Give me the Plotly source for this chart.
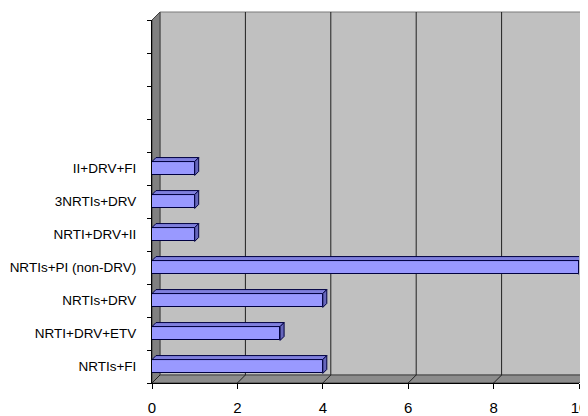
import plotly.graph_objects as go

# ---- data ----
categories = ["NRTIs+FI", "NRTI+DRV+ETV", "NRTIs+DRV", "NRTIs+PI (non-DRV)",
              "NRTI+DRV+II", "3NRTIs+DRV", "II+DRV+FI"]
values = [4, 3, 4, 10, 1, 1, 1]
n_slots = 11          # 7 filled categories + 4 empty slots above
x_ticks = [0, 2, 4, 6, 8, 10]

# ---- layout geometry (pixels); page body has an 8px margin ----
FIG_W, FIG_H = 580, 408
ML, MR, MT, MB = 144, 9, 12, 33
W = FIG_W - ML - MR
H = FIG_H - MT - MB
XMAX = 10
DEPTH = 8                      # wall depth in px
DX, DY = DEPTH / W, DEPTH / H  # wall depth in paper units
px_per_x = W / XMAX
px_per_y = H / n_slots
BAR_W = 0.42
bdx = 4 / px_per_x             # bar depth in data units
bdy = 4 / px_per_y

FONT = "Liberation Sans, Arial, sans-serif"
FS = 13.5

ypos = list(range(len(categories)))

fig = go.Figure()
fig.add_trace(go.Bar(
    x=values, y=ypos, orientation="h", width=BAR_W,
    marker=dict(color="#9999FF", line=dict(color="#000040", width=1)),
    hoverinfo="x+y", showlegend=False,
))

shapes = []
# back wall
shapes.append(dict(type="rect", xref="paper", yref="paper", layer="below",
                   x0=DX, x1=1 + DX, y0=DY, y1=1 + DY,
                   fillcolor="#C0C0C0", line=dict(color="#7a7a7a", width=1)))
# side wall
shapes.append(dict(type="path", xref="paper", yref="paper", layer="below",
                   path=f"M 0 0 L 0 1 L {DX} {1+DY} L {DX} {DY} Z",
                   fillcolor="#808080", line=dict(color="#404040", width=1)))
# floor
shapes.append(dict(type="path", xref="paper", yref="paper", layer="below",
                   path=f"M 0 0 L 1 0 L {1+DX} {DY} L {DX} {DY} Z",
                   fillcolor="#8c8c8c", line=dict(color="#404040", width=1)))
# gridlines on back wall + floor diagonals
dxd = DEPTH / px_per_x
for t in x_ticks:
    if 0 < t < XMAX:
        shapes.append(dict(type="line", xref="x", yref="paper", layer="below",
                           x0=t + dxd, x1=t + dxd, y0=DY, y1=1 + DY,
                           line=dict(color="#202020", width=1)))
    shapes.append(dict(type="line", xref="x", yref="paper", layer="below",
                       x0=t, x1=t + dxd, y0=0, y1=DY,
                       line=dict(color="#202020", width=1)))

# 3D faces of the bars
for y, v in zip(ypos, values):
    top = y + BAR_W / 2
    bot = y - BAR_W / 2
    shapes.append(dict(type="path", xref="x", yref="y", layer="above",
                       path=f"M 0 {top} L {bdx} {top+bdy} L {v+bdx} {top+bdy} L {v} {top} Z",
                       fillcolor="#7f7fdd", line=dict(color="#000040", width=1)))
    shapes.append(dict(type="path", xref="x", yref="y", layer="above",
                       path=f"M {v} {bot} L {v} {top} L {v+bdx} {top+bdy} L {v+bdx} {bot+bdy} Z",
                       fillcolor="#6666bb", line=dict(color="#000040", width=1)))

fig.update_layout(
    width=FIG_W, height=FIG_H,
    margin=dict(l=ML, r=MR, t=MT, b=MB, pad=0, autoexpand=False),
    paper_bgcolor="white", plot_bgcolor="rgba(0,0,0,0)",
    font=dict(family=FONT, size=FS, color="black"),
    bargap=0,
    shapes=shapes,
    xaxis=dict(range=[0, XMAX], tickvals=x_ticks, ticks="outside", ticklen=5,
               tickcolor="black", showgrid=False, zeroline=False,
               showline=True, linecolor="black", linewidth=1,
               automargin=False, ticklabeloverflow="allow",
               ticklabelstandoff=6,
               tickfont=dict(family=FONT, size=15)),
    yaxis=dict(range=[-0.5, n_slots - 0.5], tickvals=ypos, ticktext=categories,
               ticks="", showgrid=False, zeroline=False,
               showline=True, linecolor="black", linewidth=1,
               automargin=False, ticklabelstandoff=12,
               tickfont=dict(family=FONT, size=FS),
               minor=dict(tickvals=[i - 0.5 for i in range(n_slots + 1)],
                          ticks="outside", ticklen=4, tickcolor="black",
                          showgrid=False)),
)

fig.write_html("out.html")
